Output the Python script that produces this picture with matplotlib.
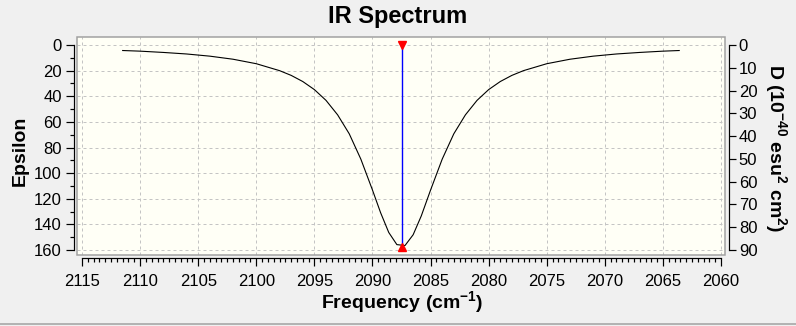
import matplotlib
matplotlib.use("Agg")
import matplotlib.pyplot as plt
from matplotlib.patches import Rectangle
from matplotlib.lines import Line2D
from matplotlib.ticker import MultipleLocator

plt.rcParams["font.family"] = ["Liberation Sans", "DejaVu Sans"]
plt.rcParams["mathtext.default"] = "regular"

# broadened spectrum (cm-1, epsilon)
freq = [2111.5, 2110.0, 2108.0, 2106.0, 2104.0, 2102.0, 2100.0, 2098.0, 2097.0,
        2096.0, 2095.0, 2094.0, 2093.0, 2092.0, 2091.0, 2090.0, 2089.3, 2088.6,
        2087.9, 2087.2, 2086.5, 2085.8, 2085.0, 2084.0, 2083.0, 2082.0, 2081.0,
        2080.0, 2079.0, 2078.0, 2077.0, 2075.0, 2073.0, 2071.0, 2069.0, 2067.0,
        2065.0, 2063.6]
epsilon = [4.3, 4.8, 5.8, 7.0, 8.7, 11.1, 14.6, 20.0, 23.7,
           28.5, 34.8, 43.2, 54.5, 69.3, 89.1, 113.2, 130.9, 146.3,
           155.8, 156.5, 148.1, 133.4, 113.2, 89.1, 69.3, 54.5, 43.2,
           34.8, 28.5, 23.7, 20.0, 14.6, 11.1, 8.7, 7.0, 5.8,
           4.8, 4.3]

# stick (dipole strength, 10^-40 esu^2 cm^2)
stick_freq = [2087.5]
stick_d = [88.5]

x_ticks = [2115, 2110, 2105, 2100, 2095, 2090, 2085, 2080, 2075, 2070, 2065, 2060]
eps_ticks = [0, 20, 40, 60, 80, 100, 120, 140, 160]
d_ticks = [0, 10, 20, 30, 40, 50, 60, 70, 80, 90]

PX = 0.72  # one pixel in points at dpi 100

fig = plt.figure(figsize=(7.96, 3.26), dpi=100, facecolor="#f0f0f0")
ax = fig.add_axes([77 / 796, 71 / 326, 648 / 796, 218 / 326])
ax.set_facecolor("#fffff6")
ax2 = ax.twinx()
ax2.patch.set_visible(False)

ax.plot(freq, epsilon, color="black", lw=0.8)
ax.set_xlim(2115.43, 2059.66)
ax.set_ylim(163.9, -6.25)
ax2.set_ylim(163.9 * 90 / 160, -6.25 * 90 / 160)

for f, d in zip(stick_freq, stick_d):
    ax2.plot([f, f], [0, d], color="#0000ff", lw=1.0, zorder=3)
    ax2.plot([f], [0], marker="v", color="red", ms=5.5, zorder=4, clip_on=False)
    ax2.plot([f], [d], marker="^", color="red", ms=5.5, zorder=4, clip_on=False)

ax.set_xticks(x_ticks)
ax.set_yticks(eps_ticks)
ax2.set_yticks(d_ticks)
ax.xaxis.set_minor_locator(MultipleLocator(0.5))
ax.yaxis.set_minor_locator(MultipleLocator(10))

ax.grid(True, which="major", color="#c4c4c4", lw=PX, linestyle=(0, (3, 3)))

for a in (ax, ax2):
    for s in a.spines.values():
        s.set_visible(False)

ax.spines["left"].set_visible(True)
ax.spines["left"].set_position(("outward", 3 * PX))
ax.spines["left"].set_bounds(0, 160)
ax.spines["bottom"].set_visible(True)
ax.spines["bottom"].set_position(("outward", 3 * PX))
ax.spines["bottom"].set_bounds(2115, 2060)
ax2.spines["right"].set_visible(True)
ax2.spines["right"].set_position(("outward", 4 * PX))
ax2.spines["right"].set_bounds(0, 90)
for s in (ax.spines["left"], ax.spines["bottom"], ax2.spines["right"]):
    s.set_color("black")
    s.set_linewidth(1.2 * PX)

ax.tick_params(which="major", length=8 * PX, width=1.2 * PX, labelsize=12, pad=3)
ax.tick_params(axis="x", which="major", pad=6)
ax.tick_params(which="minor", length=4 * PX, width=1.2 * PX)
ax2.tick_params(which="major", length=7 * PX, width=1.2 * PX, labelsize=12, pad=2)

# gray frame around the plotting area
ax.add_patch(Rectangle((0, 0), 1, 1, transform=ax.transAxes, fill=False,
                       edgecolor="#a0a0a0", lw=1.5 * PX, clip_on=False, zorder=5))

fig.text(0.5, 1 - 17 / 326, "IR Spectrum", ha="center", va="center",
         fontsize=17, fontweight="bold")
fig.text(402 / 796, 1 - 302 / 326, "Frequency (cm$^{-1}$)", ha="center", va="center",
         fontsize=14, fontweight="bold")
fig.text(20 / 796, 1 - 151 / 326, "Epsilon", ha="center", va="center",
         rotation=90, fontsize=14, fontweight="bold")
fig.text(776 / 796, 1 - 148 / 326, "D (10$^{-40}$ esu$^{2}$ cm$^{2}$)", ha="center",
         va="center", rotation=270, fontsize=14, fontweight="bold")

fig.add_artist(Line2D([0, 1], [2.5 / 326, 2.5 / 326], transform=fig.transFigure,
                      color="#a0a0a0", lw=1.5 * PX))

fig.savefig("out.png", dpi=100, facecolor=fig.get_facecolor())
